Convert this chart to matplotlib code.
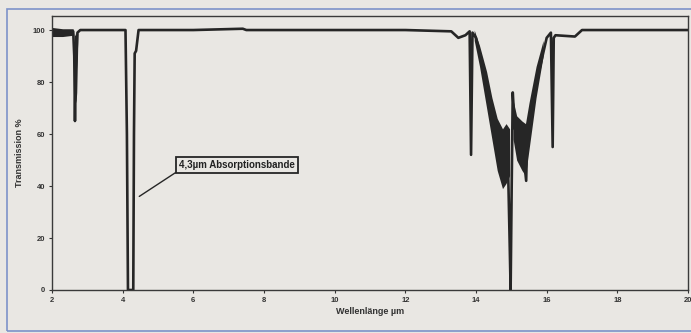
import matplotlib.pyplot as plt
from matplotlib.patches import Rectangle

plt.rcParams['font.family'] = ['Liberation Sans', 'DejaVu Sans']

# main trace (wavelength in um, transmission in %)
wl = [2.0, 2.3, 2.6, 2.63, 2.65, 2.67, 2.72, 2.8, 4.08, 4.12, 4.15, 4.3, 4.32, 4.34,
      4.38, 4.45, 6.0, 7.4, 7.5, 12.0, 13.3, 13.5, 13.7, 13.82, 13.86, 13.9, 14.0,
      14.2, 14.4, 14.6, 14.75, 14.9, 14.95, 14.98, 15.01, 15.04, 15.1, 15.3, 15.42,
      15.45, 15.5, 15.75, 16.0, 16.12, 16.17, 16.2, 16.25, 16.8, 17.0, 20.0]
trans = [100, 99, 99.5, 90, 65, 85, 99, 100, 100, 60, 0, 0, 60, 91,
         92, 100, 100, 100.5, 100, 100, 99.5, 97, 98, 99.5, 52, 99, 97,
         86, 69, 55, 45, 52, 20, 0, 40, 76, 62, 58, 42,
         60, 63, 82, 97, 99, 55, 97, 98, 97.5, 100, 100]

# noisy envelope regions (upper / lower)
noise1_wl = [2.0, 2.3, 2.6]
noise1_hi = [101, 100.5, 100.5]
noise1_lo = [97.5, 97.5, 98]

noise2_wl = [2.63, 2.65, 2.68, 2.70, 2.73]
noise2_hi = [99, 98, 98, 98, 99]
noise2_lo = [88, 74, 72, 76, 95]

noise3_wl = [13.95, 14.1, 14.3, 14.45, 14.6, 14.75, 14.85, 14.95]
noise3_hi = [100, 94, 84, 74, 66, 62, 64, 62]
noise3_lo = [96, 86, 70, 58, 46, 39, 41, 44]

noise4_wl = [15.05, 15.15, 15.3, 15.4, 15.5, 15.7, 15.9]
noise4_hi = [73, 67, 65, 64, 72, 86, 96]
noise4_lo = [58, 50, 46, 44, 54, 74, 90]

bg = '#e9e7e3'
ink = '#262626'

fig = plt.figure(figsize=(6.91, 3.33), dpi=100, facecolor=bg)
fig.patches.append(Rectangle((7 / 691, 2 / 333), 0.995, 322 / 333, transform=fig.transFigure,
                             fill=False, edgecolor='#7d92c9', linewidth=1.2))

ax = fig.add_axes([52 / 691, 43 / 333, 636 / 691, 274 / 333], facecolor=bg)

ax.plot(wl, trans, color=ink, linewidth=1.9)
for xs, hi, lo in [(noise1_wl, noise1_hi, noise1_lo), (noise2_wl, noise2_hi, noise2_lo),
                   (noise3_wl, noise3_hi, noise3_lo), (noise4_wl, noise4_hi, noise4_lo)]:
    ax.fill_between(xs, lo, hi, color=ink, linewidth=0)

ax.set_xlim(2, 20)
ax.set_ylim(0, 105.4)
ax.set_xticks(range(2, 21, 2))
ax.set_yticks(range(0, 101, 20))
ax.tick_params(direction='out', length=2, width=0.8, labelsize=5.5, pad=3, colors='#333333')
for lab in ax.get_xticklabels() + ax.get_yticklabels():
    lab.set_fontweight('bold')
for s in ax.spines.values():
    s.set_color('#3a3a3a')
    s.set_linewidth(1.0)

ax.set_xlabel('Wellenlänge µm', fontsize=6.5, fontweight='bold', color='#333333', labelpad=2)
ax.set_ylabel('Transmission %', fontsize=6.5, fontweight='bold', color='#333333', labelpad=6)

ax.annotate('4,3µm Absorptionsbande', xy=(4.47, 36), xytext=(5.6, 48),
            fontsize=7, fontweight='bold', color='#222222', ha='left', va='center',
            bbox=dict(boxstyle='square,pad=0.3', facecolor=bg, edgecolor=ink, linewidth=1.3),
            arrowprops=dict(arrowstyle='-', color=ink, linewidth=1.0, relpos=(0, 0),
                            shrinkA=0, shrinkB=0))

plt.savefig('out.png', dpi=100, facecolor=bg)
